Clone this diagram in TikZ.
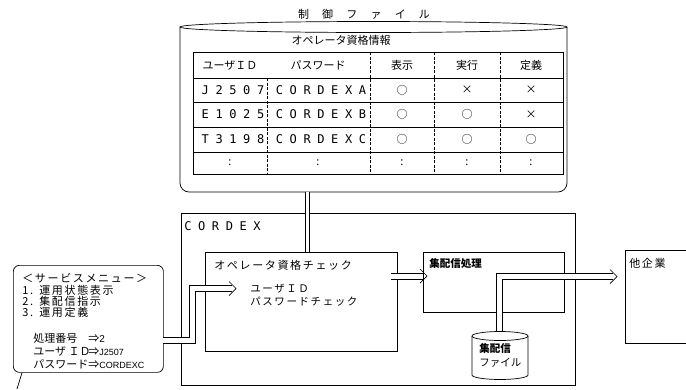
\documentclass[tikz,border=0pt]{standalone}
\usepackage{fontspec}
\setmainfont{Noto Sans CJK JP}
\newfontfamily\jpfont{Noto Sans CJK JP}
\newfontfamily\jpwide[LetterSpace=120]{Noto Sans CJK JP}
\newfontfamily\jpsp[LetterSpace=15]{Noto Sans CJK JP}
\newfontfamily\monosp[LetterSpace=55]{DejaVu Sans Mono}
\newfontfamily\latfont{Liberation Sans}
\begin{document}
\begin{tikzpicture}[x=1pt,y=-1pt,line width=0.7pt,
  band/.style={draw=white, line width=5pt},
  rail/.style={draw=black, line width=0.7pt},
  tip/.style={draw=black, line width=0.7pt, line join=miter},
  divider/.style={dash pattern=on 3pt off 1.5pt},
  boxnode/.style={draw, rectangle, inner sep=0, anchor=north west},
  ghost/.style={rectangle, inner sep=0, anchor=north west},
  jtxt/.style={font=\jpfont\fontsize{11}{11}\selectfont, inner sep=0},
  mtxt/.style={font=\monosp\fontsize{12}{12}\selectfont, inner sep=0, xshift=3pt},
  symb/.style={font=\jpfont\fontsize{11}{11}\selectfont, inner sep=0},
  menutxt/.style={font=\jpsp\fontsize{11}{11.3}\selectfont, inner sep=0, anchor=west},
]
\useasboundingbox (0,0) rectangle (686,389);

% ---------- control file (cylinder) ----------
\node[ghost, minimum width=387pt, minimum height=170pt] (ctrl) at (180,22) {};
\draw[rounded corners=9pt] (180,27) -- (180,192) -- (567,192) -- (567,27);
\draw (373.5,27) ellipse [x radius=193.5, y radius=5.5];
\node[font=\jpwide\fontsize{11}{11}\selectfont, inner sep=0] (title) at (364,14) {制御ファイル};
\node[jtxt] (info) at (341,40) {オペレータ資格情報};

% table
\draw (193,52) rectangle (563,174);
\foreach \y in {78,102,127,152} \draw (193,\y) -- (563,\y);
\foreach \x in {370,434,500} \draw[divider] (\x,52) -- (\x,174);
\draw[divider] (267,78) -- (267,174);

\node[jtxt] (h1) at (230,65) {ユーザＩＤ};
\node[jtxt] (h2) at (318,65) {パスワード};
\node[jtxt] (h3) at (402,65) {表示};
\node[jtxt] (h4) at (467,65) {実行};
\node[jtxt] (h5) at (531,65) {定義};

\node[mtxt] (r1c1) at (230,90) {J2507};
\node[mtxt] (r1c2) at (318,90) {CORDEXA};
\node[symb] (r1c3) at (402,90) {○};
\node[symb] (r1c4) at (467,90) {×};
\node[symb] (r1c5) at (531,90) {×};

\node[mtxt] (r2c1) at (230,114.5) {E1025};
\node[mtxt] (r2c2) at (318,114.5) {CORDEXB};
\node[symb] (r2c3) at (402,114.5) {○};
\node[symb] (r2c4) at (467,114.5) {○};
\node[symb] (r2c5) at (531,114.5) {×};

\node[mtxt] (r3c1) at (230,139.5) {T3198};
\node[mtxt] (r3c2) at (318,139.5) {CORDEXC};
\node[symb] (r3c3) at (402,139.5) {○};
\node[symb] (r3c4) at (467,139.5) {○};
\node[symb] (r3c5) at (531,139.5) {○};

\node[symb] (r4c1) at (230,163) {:};
\node[symb] (r4c2) at (318,163) {:};
\node[symb] (r4c3) at (402,163) {:};
\node[symb] (r4c4) at (467,163) {:};
\node[symb] (r4c5) at (531,163) {:};

% ---------- CORDEX ----------
\node[boxnode, minimum width=394pt, minimum height=172pt] (cordex) at (181,213) {};
\node[font=\monosp\fontsize{12}{12}\selectfont, inner sep=0, anchor=west] (cordexlbl) at (184,226) {CORDEX};

\node[boxnode, minimum width=192pt, minimum height=99pt] (check) at (205,252) {};
\node[font=\jpsp\fontsize{11}{11}\selectfont, inner sep=0, anchor=west] (checklbl) at (214,265) {オペレータ資格チェック};
\node[font=\jpsp\fontsize{10.5}{13}\selectfont, inner sep=0, anchor=north west, align=left] (checktxt) at (250,284) {ユーザＩＤ\\パスワードチェック};

\node[boxnode, minimum width=141pt, minimum height=60pt] (haishin) at (423,252) {};
\node[font=\jpfont\bfseries\fontsize{10.5}{10.5}\selectfont, inner sep=0, anchor=west] (haishinlbl) at (429,264) {集配信処理};

% file cylinder
\node[ghost, minimum width=56pt, minimum height=48pt] (file) at (472,331) {};
\draw (472,336) -- (472,375) arc[start angle=180, end angle=0, x radius=28, y radius=4.5] -- (528,336);
\draw (500,336) ellipse [x radius=28, y radius=4.5];
\node[font=\jpfont\fontsize{10.5}{14}\selectfont, inner sep=0, anchor=north west, align=left] (filetxt) at (479,343) {\bfseries 集配信\\ファイル};

% other company
\node[ghost, minimum width=61pt, minimum height=93pt] (other) at (625,250) {};
\draw (other.north east) -- (other.north west) -- (other.south west) -- (other.south east);
\node[font=\jpsp\fontsize{11}{11}\selectfont, inner sep=0, anchor=west] (otherlbl) at (629,263) {他企業};

% ---------- service menu ----------
\node[boxnode, rounded corners=6pt, minimum width=150pt, minimum height=107pt] (menu) at (13,265) {};
\node[menutxt] (m0) at (22,278) {＜サービスメニュー＞};
\node[menutxt] (m1) at (22,290) {\makebox[17pt][l]{1.}運用状態表示};
\node[menutxt] (m2) at (22,301) {\makebox[17pt][l]{2.}集配信指示};
\node[menutxt] (m3) at (22,312) {\makebox[17pt][l]{3.}運用定義};
\node[font=\jpfont\fontsize{11}{11}\selectfont, inner sep=0, anchor=west] (m4) at (33,338) {\makebox[55pt][l]{処理番号}⇒\latfont\fontsize{10}{10}\selectfont 2};
\node[font=\jpfont\fontsize{11}{11}\selectfont, inner sep=0, anchor=west] (m5) at (33,351) {\makebox[55pt][l]{ユーザ ＩＤ}⇒\latfont\fontsize{9}{9}\selectfont J2507};
\node[font=\jpfont\fontsize{11}{11}\selectfont, inner sep=0, anchor=west] (m6) at (33,364) {\makebox[55pt][l]{パスワード}⇒\latfont\fontsize{9}{9}\selectfont CORDEXC};
\coordinate (mtail) at (17,389);
\draw ([xshift=9pt]menu.south west) -- (mtail);

% ---------- connectors (double lines) ----------
% control file -> operator check
\coordinate (cc1) at (307,192);
\coordinate (cc2) at (307,252);
\draw[band, line width=3.3pt] (cc1) -- (cc2);
\draw[rail] ([xshift=-2pt]cc1) -- ([xshift=-2pt]cc2);
\draw[rail] ([xshift=2pt]cc1) -- ([xshift=2pt]cc2);

% menu -> operator check
\coordinate (mstart) at (163,340.5);
\coordinate (mbend) at (192.5,340.5);
\coordinate (mup) at (192.5,288.5);
\coordinate (chkin) at (236,288.5);
\draw[band, line width=5.6pt] (mstart) -- (mbend) -- (mup) -- ([xshift=-4pt]chkin);
\draw[rail] ([yshift=3pt]mstart) -- ([xshift=-3pt,yshift=3pt]mbend) -- ([xshift=-3pt,yshift=3pt]mup) -- ([xshift=-4pt,yshift=3pt]chkin);
\draw[rail] ([yshift=-3pt]mstart) -- ([xshift=3pt,yshift=-3pt]mbend) -- ([xshift=3pt,yshift=-3pt]mup) -- ([xshift=-4pt,yshift=-3pt]chkin);
\draw[tip] ([xshift=-7pt,yshift=-7pt]chkin) .. controls ([xshift=-3pt,yshift=-3pt]chkin) .. (chkin) .. controls ([xshift=-3pt,yshift=3pt]chkin) .. ([xshift=-7pt,yshift=7pt]chkin);

% operator check -> distribution processing
\coordinate (c2h) at (391,276);
\coordinate (h2in) at (427,276);
\draw[band] (c2h) -- ([xshift=-4pt]h2in);
\draw[rail] ([yshift=-3pt]c2h) -- ([xshift=-4pt,yshift=-3pt]h2in);
\draw[rail] ([yshift=3pt]c2h) -- ([xshift=-4pt,yshift=3pt]h2in);
\draw[tip] ([xshift=-7pt,yshift=-7pt]h2in) .. controls ([xshift=-3pt,yshift=-3pt]h2in) .. (h2in) .. controls ([xshift=-3pt,yshift=3pt]h2in) .. ([xshift=-7pt,yshift=7pt]h2in);

% distribution file -> other company
\coordinate (fbot) at (499.5,331);
\coordinate (fr) at (499.5,276.5);
\coordinate (oin) at (617,276.5);
\draw[band] (fbot) -- (fr) -- ([xshift=-4pt]oin);
\draw[rail] ([xshift=-3pt]fbot) -- ([xshift=-3pt,yshift=3pt]fr) -- ([xshift=-4pt,yshift=3pt]oin);
\draw[rail] ([xshift=3pt]fbot) -- ([xshift=3pt,yshift=-3pt]fr) -- ([xshift=-4pt,yshift=-3pt]oin);
\draw[tip] ([xshift=-7pt,yshift=-7pt]oin) .. controls ([xshift=-3pt,yshift=-3pt]oin) .. (oin) .. controls ([xshift=-3pt,yshift=3pt]oin) .. ([xshift=-7pt,yshift=7pt]oin);
\end{tikzpicture}
\end{document}
